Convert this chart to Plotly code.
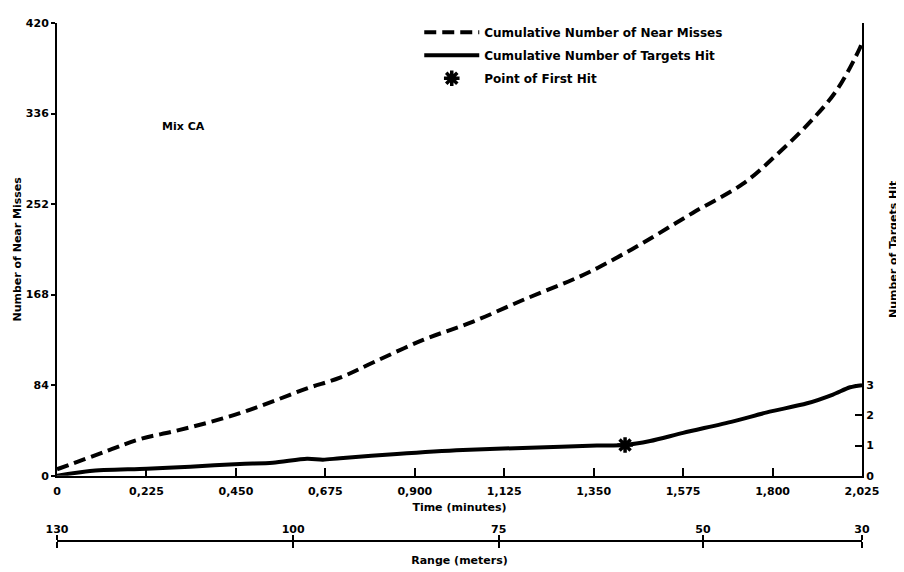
import plotly.graph_objects as go

# ---- data ----
time_nm = [0.0, 0.126, 0.209, 0.292, 0.377, 0.46, 0.543, 0.629, 0.712, 0.795, 0.921,
           1.047, 1.172, 1.298, 1.361, 1.474, 1.6, 1.726, 1.811, 1.894, 1.962, 2.02, 2.025]
near_misses = [6, 23, 34, 41, 49, 58, 69, 81, 91, 105, 126,
               143, 163, 182, 193, 216, 244, 271, 298, 328, 358, 397, 402]

time_hit = [0.0, 0.083, 0.226, 0.335, 0.46, 0.543, 0.629, 0.669, 0.712, 0.855, 1.021,
            1.19, 1.358, 1.429, 1.492, 1.575, 1.701, 1.786, 1.887, 1.952, 1.995, 2.025]
targets_hit = [0.0, 0.16, 0.23, 0.3, 0.39, 0.43, 0.56, 0.53, 0.58, 0.72, 0.85,
               0.93, 1.0, 1.02, 1.15, 1.42, 1.8, 2.1, 2.4, 2.69, 2.93, 3.0]

first_hit_time = [1.429]
first_hit_value = [1.02]

time_ticks = [0, 0.225, 0.45, 0.675, 0.9, 1.125, 1.35, 1.575, 1.8, 2.025]
time_labels = ["0", "0,225", "0,450", "0,675", "0,900", "1,125", "1,350", "1,575", "1,800", "2,025"]

nm_ticks = [0, 84, 168, 252, 336, 420]
hit_ticks = [0, 1, 2, 3]

range_m = [130, 100, 75, 50, 30]
range_time = [0.0, 0.594, 1.111, 1.625, 2.025]

FONT = dict(family="DejaVu Sans", size=11, color="black", weight="bold")

fig = go.Figure()
fig.add_trace(go.Scatter(
    x=time_nm, y=near_misses, mode="lines", name="Cumulative Number of Near Misses",
    legendgroup="a",
    line=dict(color="black", width=4, dash="12px,6px", shape="spline", smoothing=1.0),
    xaxis="x", yaxis="y"))
fig.add_trace(go.Scatter(
    x=time_hit, y=targets_hit, mode="lines", name="Cumulative Number of Targets Hit",
    legendgroup="b",
    line=dict(color="black", width=4, shape="spline", smoothing=0.8),
    xaxis="x", yaxis="y2"))
fig.add_trace(go.Scatter(
    x=first_hit_time, y=first_hit_value, mode="markers", name="Point of First Hit",
    legendgroup="c",
    marker=dict(symbol="asterisk", size=13, color="black", line=dict(color="black", width=3.5)),
    xaxis="x", yaxis="y2"))
# helper traces so the range scale axes are drawn
fig.add_trace(go.Scatter(x=range_time, y=[0] * len(range_time), mode="markers",
                         marker=dict(opacity=0), showlegend=False, hoverinfo="skip",
                         xaxis="x2", yaxis="y"))
fig.add_trace(go.Scatter(x=range_time, y=[0] * len(range_time), mode="markers",
                         marker=dict(opacity=0), showlegend=False, hoverinfo="skip",
                         xaxis="x3", yaxis="y"))

W, H = 896, 564
ML, MR, MT, MB = 49, 42, 10, 20
H_PLOT = H - MT - MB
Y0 = H - MB  # paper y=0 in figure pixels
bottom_domain = (Y0 - 467) / H_PLOT
range_pos = (Y0 - 533) / H_PLOT

fig.update_layout(
    width=W, height=H,
    margin=dict(l=ML, r=MR, t=MT, b=MB),
    paper_bgcolor="white", plot_bgcolor="white",
    font=FONT,
    showlegend=True,
    legend=dict(x=0.45, y=1.01, xanchor="left", yanchor="top",
                bgcolor="rgba(0,0,0,0)",
                font=dict(size=12, family="DejaVu Sans", color="black", weight="bold"),
                tracegroupgap=4, itemwidth=55),
    xaxis=dict(range=[0, 2.025], tickvals=time_ticks, ticktext=time_labels,
               showline=True, linecolor="black", linewidth=2, ticks="inside",
               ticklen=8, tickwidth=2, tickcolor="black", showgrid=False, zeroline=False,
               automargin=False, ticklabelstandoff=4,
               title=dict(text="Time (minutes)", standoff=6, font=FONT),
               domain=[0, 1], anchor="y"),
    yaxis=dict(range=[0, 420], tickvals=nm_ticks, showline=True, linecolor="black",
               linewidth=2, ticks="outside", ticklen=4, tickwidth=2, tickcolor="black",
               showgrid=False, zeroline=False, domain=[bottom_domain, 1], automargin=False,
               title=dict(text="Number of Near Misses", standoff=2, font=FONT)),
    yaxis2=dict(range=[0, 15], tickvals=hit_ticks, overlaying="y", side="right",
                showline=True, linecolor="black", linewidth=2, ticks="inside",
                ticklen=7, tickwidth=2, tickcolor="black", showgrid=False, zeroline=False,
                automargin=False,
                title=dict(text="Number of Targets Hit", standoff=16, font=FONT)),
    xaxis2=dict(range=[0, 2.025], tickvals=range_time, ticktext=[str(v) for v in range_m],
                overlaying="x", anchor="free", position=range_pos, side="top",
                showline=True, linecolor="black", linewidth=2, ticks="outside",
                ticklen=5, tickwidth=2, tickcolor="black", showgrid=False, zeroline=False,
                automargin=False, ticklabelstandoff=-2),
    xaxis3=dict(range=[0, 2.025], tickvals=range_time, showticklabels=False,
                overlaying="x", anchor="free", position=range_pos, side="bottom",
                showline=True, linecolor="black", linewidth=2, ticks="outside",
                ticklen=6, tickwidth=2, tickcolor="black", showgrid=False, zeroline=False,
                automargin=False,
                title=dict(text="Range (meters)", standoff=8, font=FONT)),
    annotations=[dict(text="Mix CA", x=(175 - ML) / 805, y=(Y0 - 114) / H_PLOT,
                      xref="paper", yref="paper", xanchor="center", yanchor="middle",
                      showarrow=False,
                      font=dict(size=11, family="DejaVu Sans", color="black", weight="bold"))],
)

fig.write_html("out.html")
